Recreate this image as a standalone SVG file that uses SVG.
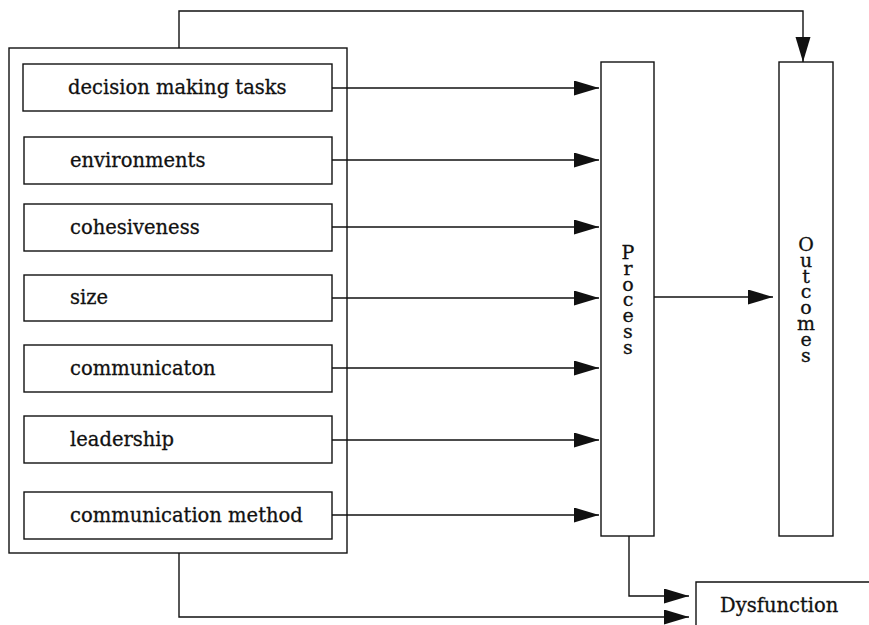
<svg xmlns="http://www.w3.org/2000/svg" width="869" height="625" viewBox="0 0 869 625">
<style>
.b{fill:#fff;stroke:#111;stroke-width:1.4}
.c{fill:none;stroke:#111;stroke-width:1.4}
.t{font-family:"DejaVu Serif","Liberation Serif",serif;font-size:19.5px;fill:#111;stroke:#111;stroke-width:0.3}
.v{font-family:"DejaVu Serif","Liberation Serif",serif;font-size:19px;fill:#111;stroke:#111;stroke-width:0.3;writing-mode:vertical-rl;text-orientation:upright;letter-spacing:-6.2px}
</style>
<defs>
<marker id="ar" markerUnits="userSpaceOnUse" markerWidth="26" markerHeight="16" refX="25" refY="7.5" orient="auto">
<path d="M0,0 L25,7.5 L0,15 Z" fill="#111"/>
</marker>
</defs>
<g id="factors">
<rect class="b" x="9" y="48" width="338" height="505"/>
</g>
<g id="n1"><rect class="b" x="23" y="64" width="309" height="47"/><text class="t" x="68" y="94">decision making tasks</text></g>
<g id="n2"><rect class="b" x="24" y="137" width="308" height="47"/><text class="t" x="70" y="167">environments</text></g>
<g id="n3"><rect class="b" x="24" y="204" width="308" height="47"/><text class="t" x="70" y="234">cohesiveness</text></g>
<g id="n4"><rect class="b" x="24" y="275" width="308" height="46"/><text class="t" x="70" y="304">size</text></g>
<g id="n5"><rect class="b" x="24" y="345" width="308" height="47"/><text class="t" x="70" y="375">communicaton</text></g>
<g id="n6"><rect class="b" x="24" y="416" width="308" height="47"/><text class="t" x="70" y="446">leadership</text></g>
<g id="n7"><rect class="b" x="24" y="492" width="308" height="47"/><text class="t" x="70" y="522">communication method</text></g>
<g id="process"><rect class="b" x="601" y="62" width="53" height="474"/>
<text class="v" x="628" y="241">Process</text></g>
<g id="outcomes"><rect class="b" x="779" y="62" width="54" height="474"/>
<text class="v" x="806" y="233">Outcomes</text></g>
<g id="dysfunction"><path class="c" d="M696,625 V582 H869"/><text class="t" x="720" y="612">Dysfunction</text></g>
<g id="connectors">
<path class="c" marker-end="url(#ar)" d="M332,88 H599"/>
<path class="c" marker-end="url(#ar)" d="M332,160 H599"/>
<path class="c" marker-end="url(#ar)" d="M332,227 H599"/>
<path class="c" marker-end="url(#ar)" d="M332,298 H599"/>
<path class="c" marker-end="url(#ar)" d="M332,368 H599"/>
<path class="c" marker-end="url(#ar)" d="M332,440 H599"/>
<path class="c" marker-end="url(#ar)" d="M332,515 H599"/>
<path class="c" marker-end="url(#ar)" d="M654,297 H773"/>
<path class="c" marker-end="url(#ar)" d="M179,48 V11 H803 V62"/>
<path class="c" marker-end="url(#ar)" d="M629,536 V596 H689"/>
<path class="c" marker-end="url(#ar)" d="M179,553 V617 H689"/>
</g>
</svg>
